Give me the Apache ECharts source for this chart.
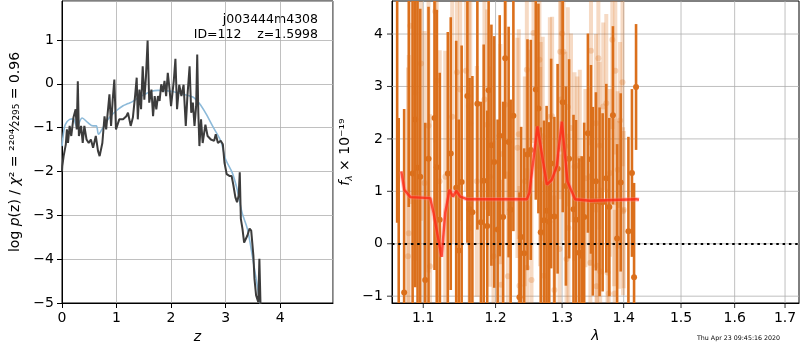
<!DOCTYPE html>
<html>
<head>
<meta charset="utf-8">
<title>zfit</title>
<script src="https://cdn.jsdelivr.net/npm/echarts@6/dist/echarts.min.js"></script>
</head>
<body style="margin:0">
<div id="main" style="width:800px;height:350px"></div>
<script>
// ---- left panel: log p(z) and prior
var zPz = [0.00,0.006,0.03,0.07,0.09,0.11,0.14,0.17,0.21,0.25,
  0.27,0.29,0.31,0.35,0.38,0.41,0.45,0.49,0.53,0.57,
  0.62,0.66,0.69,0.74,0.78,0.81,0.87,0.90,0.93,0.96,
  0.99,1.05,1.12,1.18,1.21,1.26,1.30,1.34,1.37,1.39,
  1.42,1.45,1.48,1.51,1.54,1.57,1.60,1.64,1.67,1.70,
  1.73,1.76,1.79,1.82,1.85,1.88,1.91,1.94,1.97,2.00,
  2.05,2.08,2.11,2.15,2.19,2.23,2.27,2.30,2.34,2.37,
  2.40,2.43,2.46,2.48,2.50,2.52,2.55,2.58,2.63,2.67,
  2.73,2.79,2.82,2.86,2.91,2.95,2.98,3.02,3.07,3.11,
  3.14,3.18,3.21,3.24,3.26,3.28,3.31,3.34,3.37,3.40,
  3.44,3.47,3.51,3.53,3.56,3.60,3.62,3.64,3.66];
var logPz = [-2.00,-1.87,-1.65,-1.38,-1.04,-1.35,-0.96,-1.19,-0.77,-0.58,
  -1.04,0.06,-1.19,-0.96,-1.35,-0.96,-1.27,-1.35,-1.27,-1.46,
  -1.19,-1.53,-1.65,-1.35,-0.74,-1.04,-0.24,-0.96,-0.36,0.10,
  -1.04,-0.81,-0.81,-0.74,-0.66,-0.96,-0.77,-0.28,0.14,-0.81,
  -0.13,-0.58,0.40,-0.36,0.17,0.99,-0.43,-0.13,-0.74,-0.28,
  -0.58,-0.28,-0.39,-0.01,-0.19,0.07,-0.28,0.25,-0.09,-0.51,
  0.07,0.57,-0.58,-0.02,-0.28,-0.02,-0.96,-0.28,0.40,-0.66,
  -0.43,-0.96,-0.51,0.67,-0.66,-1.42,-0.81,-1.35,-0.93,-1.19,
  -1.27,-1.30,-1.15,-1.35,-1.30,-1.38,-1.80,-2.06,-2.10,-2.10,
  -2.29,-2.59,-2.70,-2.55,-2.02,-3.08,-3.31,-3.62,-3.65,-3.46,
  -3.30,-3.35,-3.92,-4.45,-4.83,-4.98,-3.99,-5.0,-5.6];
var zPrior = [0.00,0.03,0.06,0.14,0.21,0.27,0.37,0.47,0.57,0.63,
  0.67,0.75,0.87,0.99,1.12,1.21,1.30,1.42,1.55,1.64,
  1.76,2.00,2.19,2.40,2.52,2.64,2.76,2.91,3.00,3.12,
  3.21,3.30,3.40,3.49,3.58,3.63,3.66];
var logPrior = [-1.42,-1.10,-0.93,-0.81,-0.80,-0.98,-0.78,-0.88,-0.96,-0.96,
  -1.15,-1.00,-0.77,-0.62,-0.50,-0.45,-0.40,-0.30,-0.22,-0.17,
  -0.15,-0.17,-0.23,-0.30,-0.45,-0.68,-0.96,-1.30,-1.72,-2.02,
  -2.40,-2.93,-3.31,-3.92,-4.60,-4.98,-5.2];

// ---- right panel: spectrum (flux x 1e-19)
var lamDark = [1.066,1.068,1.075,1.081,1.086,1.0895,1.0925,1.096,1.1026,1.107,
  1.115,1.118,1.122,1.133,1.137,1.1445,1.148,1.152,1.160,1.163,
  1.167,1.174,1.179,1.183,1.188,1.190,1.194,1.198,1.203,1.206,
  1.211,1.214,1.219,1.222,1.226,1.235,1.2375,1.242,1.247,1.252,
  1.2595,1.2635,1.267,1.272,1.276,1.280,1.283,1.288,1.293,1.301,
  1.306,1.311,1.318,1.322,1.327,1.331,1.335,1.341,1.346,1.349,
  1.354,1.360,1.365,1.371,1.376,1.382,1.389,1.395,1.408,1.414,
  1.4176,1.421];
var fluxDark = [4.9,-1.6,-0.93,4.7,1.34,2.37,1.45,1.28,-0.69,1.62,
  2.40,1.46,0.46,1.34,1.72,1.07,-0.13,1.18,2.82,0.66,
  0.60,2.67,0.41,1.20,0.34,2.93,1.88,1.56,0.27,2.06,
  0.51,3.54,1.94,0.65,2.44,-1.02,0.13,-0.18,1.70,1.79,
  2.94,2.58,0.22,0.45,0.63,0.42,1.53,0.52,1.43,2.70,
  1.10,1.62,0.66,0.46,-0.17,-0.23,0.51,2.11,1.61,0.81,
  1.19,0.80,0.79,1.25,0.70,2.45,0.10,1.17,0.24,1.35,
  -0.64,2.99];
var errDark = [4.5,4.0,3.5,4.0,3.5,3.2,3.4,3.2,3.0,2.9,
  2.9,3.0,2.8,2.7,2.6,2.8,2.5,2.6,2.8,2.5,
  2.6,2.4,2.3,2.6,2.2,2.4,2.3,2.4,2.1,2.3,
  2.2,2.3,2.2,2.1,2.2,2.0,2.1,2.0,2.2,2.1,
  2.1,2.0,2.0,1.9,2.0,1.9,2.0,1.9,2.0,2.1,
  1.9,1.9,1.8,1.9,1.8,1.9,1.8,1.9,1.8,1.8,
  1.7,1.8,1.7,1.8,1.7,1.7,1.8,1.7,1.8,1.6,
  1.8,1.2];
var lamLight = [1.080,1.081,1.083,1.0895,1.097,1.1017,1.107,1.109,1.116,1.118,
  1.122,1.1295,1.139,1.1455,1.150,1.158,1.162,1.163,1.164,1.1733,
  1.184,1.188,1.192,1.197,1.207,1.208,1.214,1.218,1.232,1.234,
  1.235,1.243,1.246,1.2465,1.251,1.253,1.256,1.265,1.266,1.267,
  1.270,1.272,1.281,1.2845,1.288,1.296,1.297,1.298,1.300,1.302,
  1.305,1.307,1.309,1.310,1.314,1.3196,1.324,1.328,1.337,1.344,
  1.345,1.346,1.354,1.355,1.356,1.358,1.360,1.361,1.366,1.371,
  1.373,1.375,1.377,1.381,1.384,1.385,1.386,1.390,1.392,1.394,
  1.398,1.399,1.400];
var fluxLight = [-0.24,0.20,4.16,2.88,3.44,1.16,2.25,-0.43,4.43,3.11,
  1.19,1.28,2.42,3.27,2.94,3.30,2.63,0.30,2.30,1.19,
  2.75,2.27,1.28,-0.24,1.71,-0.78,2.65,-0.62,1.83,2.09,
  -0.80,1.19,3.32,-0.46,1.70,-0.69,4.02,3.51,1.47,1.95,
  2.05,-0.61,2.42,2.43,-0.88,-0.10,3.66,2.75,4.01,3.66,
  1.86,-0.29,2.61,0.30,2.21,1.47,1.49,1.62,1.25,1.28,
  -0.36,3.68,2.30,-0.81,-0.42,3.54,1.87,-0.53,2.62,2.68,
  -0.55,-0.95,1.35,3.89,0.79,-0.95,3.30,1.41,0.74,2.35,
  3.08,0.62,0.65];
var errLight = [3.6,3.4,3.4,3.2,3.0,2.9,2.8,2.9,2.5,2.6,
  2.5,2.4,2.4,2.3,2.5,2.3,2.2,2.3,2.4,2.2,
  2.1,2.2,2.1,2.2,2.1,2.0,2.1,2.0,2.1,2.0,
  1.9,2.0,2.1,1.9,2.0,1.9,2.1,2.0,1.9,1.9,
  1.9,1.8,1.9,1.9,1.8,1.8,1.9,1.9,2.0,1.9,
  1.8,1.8,1.9,1.8,1.8,1.8,1.7,1.7,1.7,1.7,
  1.7,1.8,1.7,1.7,1.6,1.7,1.6,1.6,1.6,1.7,
  1.6,1.6,1.6,1.7,1.6,1.6,1.6,1.5,1.6,1.5,
  1.6,1.6,1.5];
var lamModel = [1.0713,1.0752,1.0830,1.1093,1.1137,1.1245,1.1295,1.1353,1.1400,1.1445,
  1.1500,1.1593,1.2460,1.2499,1.2620,1.2763,1.2840,1.2917,1.2996,1.3084,
  1.3205,1.3446,1.4210,1.426];
var fluxModel = [1.38,1.03,0.89,0.87,0.59,-0.25,0.59,1.03,0.90,1.01,
  0.90,0.85,0.85,0.97,2.24,1.13,1.22,1.48,2.33,1.19,
  0.85,0.82,0.85,0.84];
var lamTicks = [1.1,1.2,1.3,1.4,1.5,1.6,1.7];
var fluxTicks = [-1,0,1,2,3,4];

var FONT = 'DejaVu Sans';
var darkC = '#db6f1b';
var lightC = 'rgba(219,111,27,0.26)';

function zip(a, b, c) {
  return a.map(function (v, i) { return c ? [v, b[i], c[i]] : [v, b[i]]; });
}
function minus(v) { return v < 0 ? '\u2212' + (-v) : String(v); }

function errBars(color, w, r) {
  return function (params, api) {
    var x = api.value(0), y = api.value(1), e = api.value(2);
    var lo = api.coord([x, y - e]), hi = api.coord([x, y + e]), c = api.coord([x, y]);
    return { type: 'group', children: [
      { type: 'line', shape: { x1: lo[0], y1: lo[1], x2: hi[0], y2: hi[1] }, style: { stroke: color, lineWidth: w } },
      { type: 'circle', shape: { cx: c[0], cy: c[1], r: r }, style: { fill: color } }
    ] };
  };
}

var tickFont = '14px "DejaVu Sans"';
// ticks + grid for the log wavelength axis
function lamTickItem(params, api) {
  var cs = params.coordSys;
  var x = api.coord([api.value(0), 0])[0];
  var b = cs.y + cs.height;
  return { type: 'group', children: [
    { type: 'line', shape: { x1: x, y1: cs.y, x2: x, y2: b }, style: { stroke: '#b0b0b0', lineWidth: 0.8 } },
    { type: 'line', shape: { x1: x, y1: b, x2: x, y2: b + 5 }, style: { stroke: '#000', lineWidth: 0.8 } },
    { type: 'text', x: x, y: b + 8, style: { text: api.value(0).toFixed(1), font: tickFont, fill: '#000', align: 'center', verticalAlign: 'top' } }
  ] };
}
// ticks + grid for the flux axis (range does not start on a tick)
function fluxTickItem(params, api) {
  var cs = params.coordSys;
  var y = api.coord([lamTicks[0], api.value(1)])[1];
  return { type: 'group', children: [
    { type: 'line', shape: { x1: cs.x, y1: y, x2: cs.x + cs.width, y2: y }, style: { stroke: '#b0b0b0', lineWidth: 0.8 } },
    { type: 'line', shape: { x1: cs.x - 5, y1: y, x2: cs.x, y2: y }, style: { stroke: '#000', lineWidth: 0.8 } },
    { type: 'text', x: cs.x - 9, y: y, style: { text: minus(api.value(1)), font: tickFont, fill: '#000', align: 'right', verticalAlign: 'middle' } }
  ] };
}

var chart = echarts.init(document.getElementById('main'));
var labelStyle = { fontFamily: FONT, fontSize: 14, color: '#000' };
var grayLine = { lineStyle: { color: '#b0b0b0', width: 0.8 } };
var blackAxis = { onZero: false, lineStyle: { color: '#000' } };

var option = {
  animation: false,
  grid: [
    { left: 62, right: 467, top: 1, bottom: 47, show: true, borderColor: '#000', borderWidth: 1 },
    { left: 392, right: 1, top: 1, bottom: 47, show: true, borderColor: '#000', borderWidth: 1 }
  ],
  xAxis: [
    { type: 'value', gridIndex: 0, min: 0, max: 4.97, interval: 1,
      name: 'z', nameLocation: 'middle', nameGap: 26,
      nameTextStyle: { fontFamily: FONT, fontSize: 14, fontStyle: 'italic', color: '#000' },
      axisLine: blackAxis,
      axisTick: { length: 5, lineStyle: { color: '#000' } },
      axisLabel: Object.assign({ margin: 8, showMaxLabel: false }, labelStyle),
      splitLine: grayLine },
    { type: 'log', gridIndex: 1, min: 1.0594, max: 1.7288,
      name: 'λ', nameLocation: 'middle', nameGap: 26,
      nameTextStyle: { fontFamily: FONT, fontSize: 14, fontStyle: 'italic', color: '#000' },
      axisLine: blackAxis,
      axisTick: { show: false }, axisLabel: { show: false }, splitLine: { show: false } }
  ],
  yAxis: [
    { type: 'value', gridIndex: 0, min: -5, max: 1.89, interval: 1,
      name: '{n|log }{i|p}{n|(z) / }{i|χ}{n|² = ²²⁰⁴⁄₂₂₉₅ = 0.96}',
      nameLocation: 'middle', nameGap: 40,
      nameTextStyle: { rich: {
        n: { fontFamily: FONT, fontSize: 14, color: '#000' },
        i: { fontFamily: FONT, fontSize: 14, fontStyle: 'italic', color: '#000' } } },
      axisLine: blackAxis,
      axisTick: { length: 5, lineStyle: { color: '#000' } },
      axisLabel: Object.assign({ margin: 8, showMaxLabel: false, formatter: minus }, labelStyle),
      splitLine: grayLine },
    { type: 'value', gridIndex: 1, min: -1.13, max: 4.63,
      name: '{i|f}{s|λ}{n| × 10⁻¹⁹}',
      nameLocation: 'middle', nameGap: 38,
      nameTextStyle: { rich: {
        n: { fontFamily: FONT, fontSize: 14, color: '#000', lineHeight: 18 },
        i: { fontFamily: FONT, fontSize: 14, fontStyle: 'italic', color: '#000', lineHeight: 18 },
        s: { fontFamily: FONT, fontSize: 9, fontStyle: 'italic', color: '#000', lineHeight: 18, verticalAlign: 'bottom' } } },
      axisLine: blackAxis,
      axisTick: { show: false }, axisLabel: { show: false }, splitLine: { show: false } }
  ],
  graphic: [
    { type: 'text', right: 482, top: 13, style: { text: 'j003444m4308', font: '12.5px "DejaVu Sans"', fill: '#000' } },
    { type: 'text', right: 482, top: 28, style: { text: 'ID=112    z=1.5998', font: '12.5px "DejaVu Sans"', fill: '#000' } },
    { type: 'text', left: 697, top: 335, style: { text: 'Thu Apr 23 09:45:16 2020', font: '6.3px "DejaVu Sans"', fill: '#000' } }
  ],
  series: [
    { type: 'line', xAxisIndex: 0, yAxisIndex: 0, data: zip(zPrior, logPrior), showSymbol: false,
      smooth: 0.3, lineStyle: { color: '#8dbad9', width: 1.6 }, z: 2 },
    { type: 'line', xAxisIndex: 0, yAxisIndex: 0, data: zip(zPz, logPz), showSymbol: false,
      lineStyle: { color: '#3c3c3c', width: 2 }, z: 3 },
    { type: 'custom', xAxisIndex: 1, yAxisIndex: 1, data: lamTicks.map(function (t) { return [t, 0]; }),
      renderItem: lamTickItem, clip: false, silent: true, z: 1 },
    { type: 'custom', xAxisIndex: 1, yAxisIndex: 1, data: fluxTicks.map(function (v) { return [lamTicks[0], v]; }),
      renderItem: fluxTickItem, clip: false, silent: true, z: 1 },
    { type: 'custom', xAxisIndex: 1, yAxisIndex: 1, data: zip(lamLight, fluxLight, errLight),
      renderItem: errBars(lightC, 4, 3), clip: true, z: 2 },
    { type: 'custom', xAxisIndex: 1, yAxisIndex: 1, data: zip(lamDark, fluxDark, errDark),
      renderItem: errBars(darkC, 2.6, 3), clip: true, z: 3 },
    { type: 'line', xAxisIndex: 1, yAxisIndex: 1, data: zip(lamModel, fluxModel), showSymbol: false,
      lineStyle: { color: 'rgba(255,120,120,0.4)', width: 4.5 }, z: 4 },
    { type: 'line', xAxisIndex: 1, yAxisIndex: 1, data: zip(lamModel, fluxModel), showSymbol: false,
      lineStyle: { color: 'rgba(255,35,15,0.75)', width: 2.4 }, z: 5,
      markLine: { silent: true, symbol: ['none', 'none'], label: { show: false },
        lineStyle: { color: '#000', type: [2.5, 3.8], width: 2 },
        data: [{ yAxis: 0 }] } }
  ]
};
chart.setOption(option);
</script>
</body>
</html>
